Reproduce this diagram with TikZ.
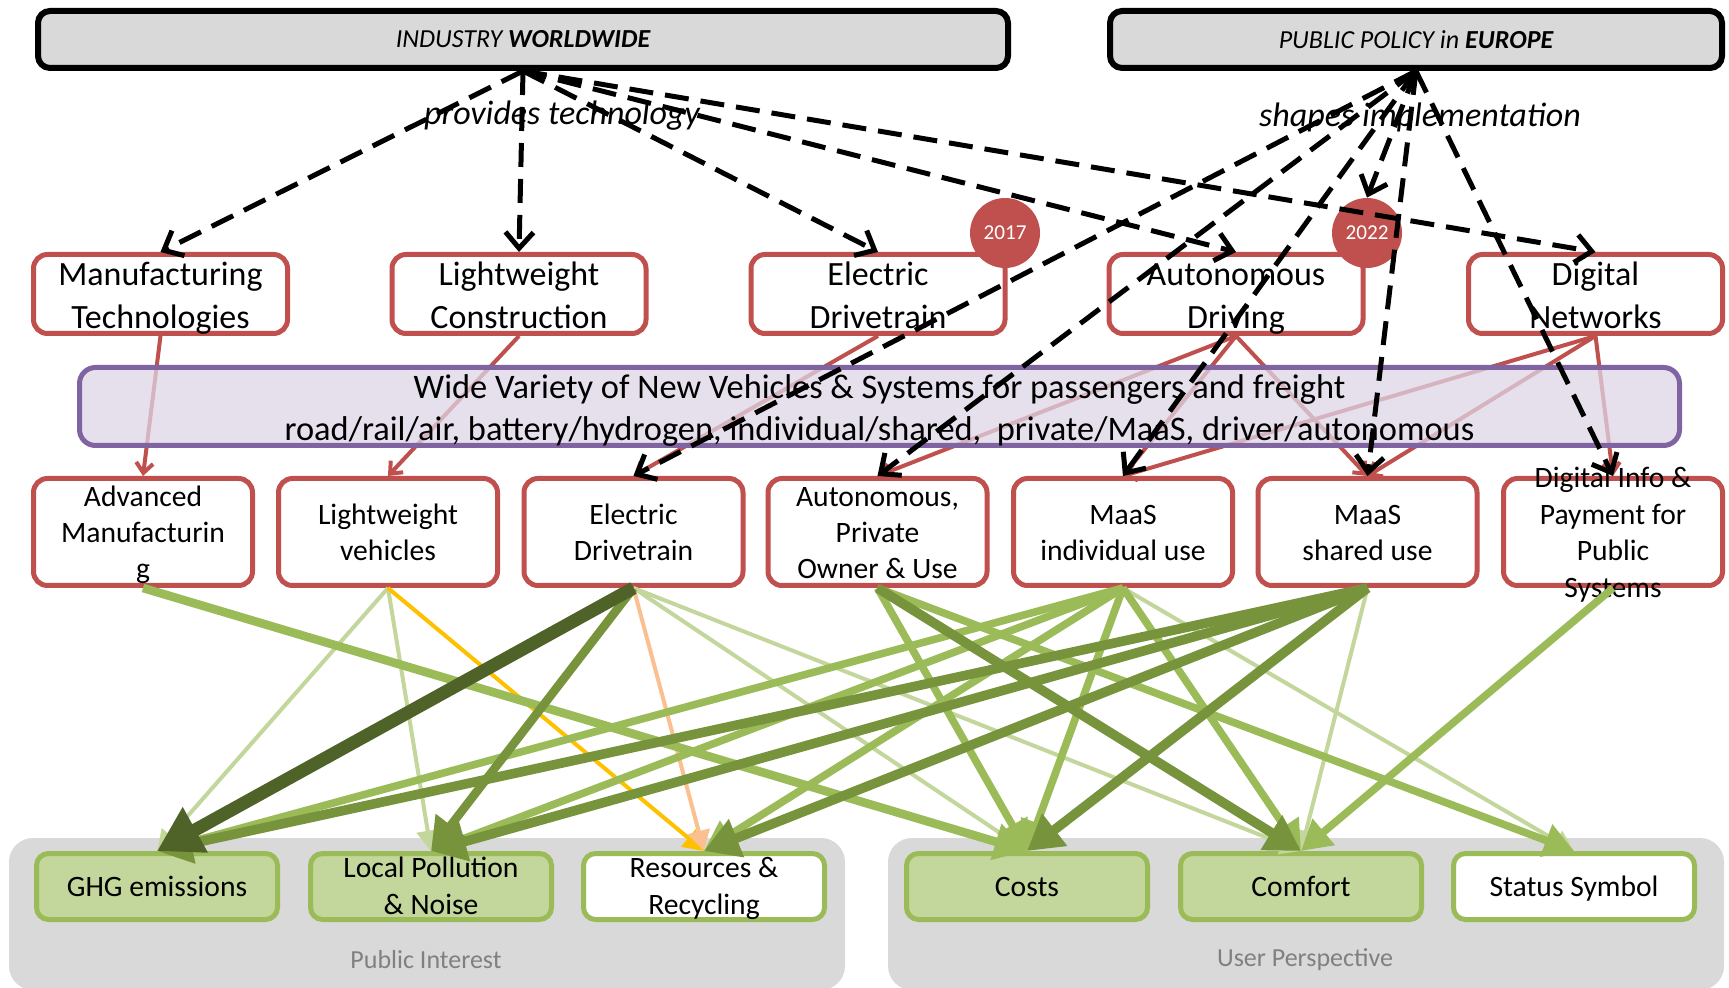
\documentclass[tikz,border=0pt]{standalone}
\usepackage{fontspec}
\setmainfont{Carlito}
\usetikzlibrary{arrows.meta}

\definecolor{boxred}{HTML}{C0504D}
\definecolor{purpleedge}{HTML}{8064A2}
\definecolor{lavfill}{HTML}{DED6E6}
\definecolor{grnedge}{HTML}{9BBB59}
\definecolor{grnfill}{HTML}{C3D69B}
\definecolor{grndark}{HTML}{4F6228}
\definecolor{grnolive}{HTML}{77933C}
\definecolor{amber}{HTML}{FFC000}
\definecolor{peach}{HTML}{FAC090}
\definecolor{panelgray}{HTML}{D9D9D9}
\definecolor{labelgray}{HTML}{808080}

% centred lines with even strut spacing
\newcommand\stack[1]{\begin{tabular}{@{}c@{}}#1\end{tabular}}

\tikzset{
  topbox/.style={draw=black, line width=3pt, fill=panelgray, rounded corners=6pt,
    minimum height=28.5pt, inner sep=0pt, font=\fontsize{13}{15}\selectfont\itshape},
  techbox/.style={draw=boxred, line width=2.5pt, fill=white, rounded corners=7pt,
    minimum width=127pt, minimum height=39.5pt, inner sep=0pt},
  techtext/.style={inner sep=0pt, yshift=-2pt, font=\fontsize{17}{21.5}\selectfont},
  usebox/.style={draw=boxred, line width=2.5pt, fill=white, rounded corners=7pt,
    minimum width=109.5pt, minimum height=53.5pt, inner sep=0pt},
  usetext/.style={inner sep=0pt, yshift=-1.6pt, font=\fontsize{14.8}{18.2}\selectfont},
  effbox/.style={draw=grnedge, line width=2.5pt, rounded corners=6pt,
    minimum width=120.5pt, minimum height=33pt, inner sep=0pt},
  efftext/.style={inner sep=0pt, yshift=-1.1pt, font=\fontsize{14.8}{18.6}\selectfont},
  bandbox/.style={draw=purpleedge, line width=2.5pt, fill=lavfill, fill opacity=0.75,
    rounded corners=8pt, minimum width=800pt, minimum height=39pt, inner sep=0pt},
  bandtext/.style={inner sep=0pt, yshift=-2.2pt, font=\fontsize{17.2}{21}\selectfont},
  panel/.style={fill=panelgray, rounded corners=12pt, minimum width=418pt,
    minimum height=76pt, inner sep=0pt},
  panellabel/.style={text=labelgray, font=\fontsize{13}{15}\selectfont},
  yearmark/.style={circle, fill=boxred, minimum size=35pt, inner sep=0pt,
    text=white, font=\fontsize{10.6}{12}\selectfont},
  flowlabel/.style={font=\fontsize{17}{20}\selectfont\itshape},
  linkred/.style={draw=boxred, line width=2pt,
    -{Straight Barb[length=5pt,width=8.5pt]}},
  linkdash/.style={draw=black, line width=2.5pt, dash pattern=on 12pt off 6pt,
    -{Straight Barb[length=8pt,width=14pt]}},
  impact/.style={-{Triangle[length=5pt 2.6,width=5pt 3]}},
  effA/.style={impact, draw=grnfill, line width=2pt},
  effB/.style={impact, draw=grnedge, line width=3.8pt},
  effBw/.style={impact, draw=grnedge, line width=4.3pt},
  effC/.style={impact, draw=grnolive, line width=4.8pt},
  effCn/.style={impact, draw=grnolive, line width=4.3pt},
  effD/.style={impact, draw=grndark, line width=6.5pt},
  effO/.style={impact, draw=amber, line width=2pt},
  effP/.style={impact, draw=peach, line width=2pt},
}

\begin{document}
\begin{tikzpicture}[x=0.5pt, y=-0.5pt]
\useasboundingbox (0,0) rectangle (1729,988);
\fill[white] (0,0) rectangle (1729,988);

% grey groups at the bottom
\node[panel] (pubpanel) at (427,914) {};
\node[panel] (userpanel) at (1306,914) {};
\node[panellabel] (publbl) at (426,960) {Public Interest};
\node[panellabel] (userlbl) at (1305,960) {User Perspective};

% impact categories
\node[effbox, fill=grnfill] (ghg) at (157,886.5) {};
\node[effbox, fill=grnfill] (lp) at (431,886.5) {};
\node[effbox, fill=white] (rr) at (704,886.5) {};
\node[effbox, fill=grnfill] (costs) at (1027,886.5) {};
\node[effbox, fill=grnfill] (comfort) at (1301,886.5) {};
\node[effbox, fill=white] (status) at (1574,886.5) {};
\node[efftext] (ghgtext) at (ghg.center) {\stack{GHG emissions}};
\node[efftext] (lptext) at (lp.center) {\stack{Local Pollution\\\& Noise}};
\node[efftext] (rrtext) at (rr.center) {\stack{Resources \&\\Recycling}};
\node[efftext] (coststext) at (costs.center) {\stack{Costs}};
\node[efftext] (comforttext) at (comfort.center) {\stack{Comfort}};
\node[efftext] (statustext) at (status.center) {\stack{Status Symbol}};

% actors
\node[topbox, minimum width=485pt] (iw) at (523,39.5) {INDUSTRY \textbf{WORLDWIDE}};
\node[topbox, minimum width=306pt] (pp) at (1416,39.5) {PUBLIC POLICY in \textbf{EUROPE}};

% technologies
\node[techbox] (mt) at (160.5,294) {};
\node[techbox] (lc) at (519,294) {};
\node[techbox] (ed) at (878,294) {};
\node[techbox] (ad) at (1236,294) {};
\node[techbox] (dn) at (1595.5,294) {};
\node[techtext] (mttext) at (mt.center) {\stack{Manufacturing\\Technologies}};
\node[techtext] (lctext) at (lc.center) {\stack{Lightweight\\Construction}};
\node[techtext] (edtext) at (ed.center) {\stack{Electric\\Drivetrain}};
\node[techtext] (adtext) at (ad.center) {\stack{Autonomous\\Driving}};
\node[techtext] (dntext) at (dn.center) {\stack{Digital\\Networks}};

% applications
\node[usebox] (am) at (143,532) {};
\node[usebox] (lv) at (388,532) {};
\node[usebox] (ed3) at (633.5,532) {};
\node[usebox] (ap) at (877.5,532) {};
\node[usebox] (mi) at (1123,532) {};
\node[usebox] (ms) at (1367.5,532) {};
\node[usebox] (di) at (1613,532) {};
\node[usetext] (amtext) at (am.center) {\stack{Advanced\\Manufacturin\\g}};
\node[usetext] (lvtext) at (lv.center) {\stack{Lightweight\\vehicles}};
\node[usetext] (ed3text) at (ed3.center) {\stack{Electric\\Drivetrain}};
\node[usetext] (aptext) at (ap.center) {\stack{Autonomous,\\Private\\Owner \& Use}};
\node[usetext] (mitext) at (mi.center) {\stack{MaaS\\individual use}};
\node[usetext] (mstext) at (ms.center) {\stack{MaaS\\shared use}};
\node[usetext] (ditext) at (di.center) {\stack{Digital Info \&\\Payment for\\Public\\Systems}};

% technology to application
\draw[linkred] (mt.south) -- (am.north);
\draw[linkred] (lc.south) -- (lv.north);
\draw[linkred] (ed.south) -- (ed3.north);
\draw[linkred] (ad.south) -- (ap.north);
\draw[linkred] (ad.south) -- (mi.north);
\draw[linkred] (ad.south) -- (ms.north);
\draw[linkred] (dn.south) -- (mi.north);
\draw[linkred] (dn.south) -- (ms.north);
\draw[linkred] (dn.south) -- (di.north);

% vehicle variety band
\node[bandbox] (variety) at (879.5,406.5) {};
\node[bandtext] (varietytext) at (variety.center)
  {\stack{Wide Variety of New Vehicles \& Systems for passengers and freight\\
   road/rail/air, battery/hydrogen, individual/shared,\ \ private/MaaS, driver/autonomous}};

% years
\node[yearmark] (y17) at (1005,233) {2017};
\node[yearmark] (y22) at (1367,233) {2022};

% impacts
\draw[effA] (lv.south) -- (ghg.north);
\draw[effA] (lv.south) -- (lp.north);
\draw[effO] (lv.south) -- (rr.north);
\draw[effA] (ed3.south) -- (costs.north);
\draw[effA] (ed3.south) -- (comfort.north);
\draw[effP] (ed3.south) -- (rr.north);
\draw[effA] (mi.south) -- (status.north);
\draw[effA] (ms.south) -- (comfort.north);
\draw[effBw] (am.south) -- (costs.north);
\draw[effB] (mi.south) -- (ghg.north);
\draw[effB] (mi.south) -- (lp.north);
\draw[effB] (mi.south) -- (rr.north);
\draw[effB] (mi.south) -- (costs.north);
\draw[effB] (mi.south) -- (comfort.north);
\draw[effB] (ap.south) -- (costs.north);
\draw[effB] (ap.south) -- (status.north);
\draw[effB] (di.south) -- (comfort.north);
\draw[effC] (ms.south) -- (ghg.north);
\draw[effC] (ms.south) -- (lp.north);
\draw[effC] (ms.south) -- (rr.north);
\draw[effC] (ms.south) -- (costs.north);
\draw[effC] (ap.south) -- (comfort.north);
\draw[effCn] (ed3.south) -- (lp.north);
\draw[effD] (ed3.south) -- (ghg.north);

% industry provides technology
\draw[linkdash] (iw.south) -- (mt.north);
\draw[linkdash] (iw.south) -- (lc.north);
\draw[linkdash] (iw.south) -- (ed.north);
\draw[linkdash] (iw.south) -- (ad.north);
\draw[linkdash] (iw.south) -- (dn.north);

% policy shapes implementation
\draw[linkdash] (pp.south) -- (ed3.north);
\draw[linkdash] (pp.south) -- (ap.north);
\draw[linkdash] (pp.south) -- (mi.north);
\draw[linkdash] (pp.south) -- (y22.north);
\draw[linkdash] (pp.south) -- (ms.north);
\draw[linkdash] (pp.south) -- (di.north);

\node[flowlabel] (provides) at (562,116) {provides technology};
\node[flowlabel] (shapes) at (1420,117) {shapes implementation};
\end{tikzpicture}
\end{document}
